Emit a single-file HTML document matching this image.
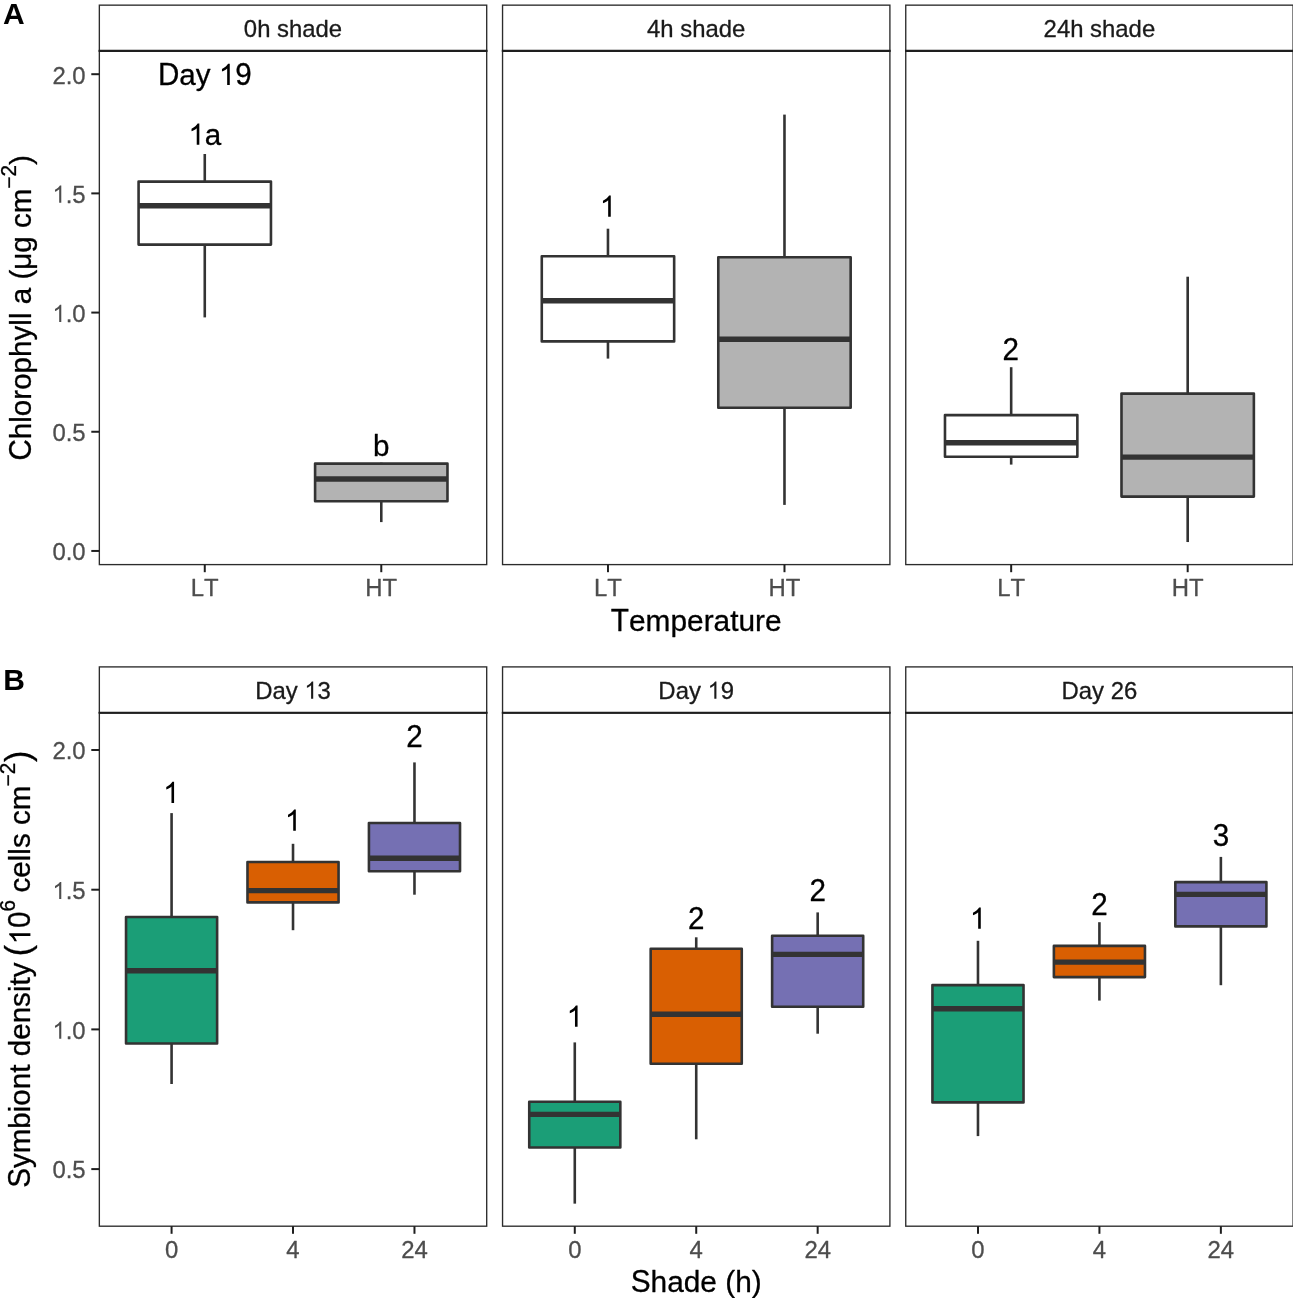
<!DOCTYPE html>
<html><head><meta charset="utf-8"><title>Chlorophyll a and symbiont density boxplots</title>
<style>
html,body{margin:0;padding:0;background:#FFFFFF;}
body{width:1293px;height:1298px;overflow:hidden;}
svg{display:block;filter:blur(0.35px);font-family:"Liberation Sans", sans-serif;font-kerning:none;}
svg text{font-kerning:none;white-space:pre;}
</style></head>
<body>
<svg width="1293" height="1298" viewBox="0 0 1293 1298">
<rect x="0" y="0" width="1293" height="1298" fill="#FFFFFF"/>
<rect x="99.35" y="5.15" width="387.35" height="45.75" fill="#FFFFFF" stroke="#2C2C2C" stroke-width="1.35"/>
<g transform="translate(293.02,36.90)" fill="#1A1A1A" stroke="#1A1A1A" stroke-width="0.3" stroke-linejoin="round"><text transform="translate(-49.17,-0.00) scale(1,1.03)" font-size="23.90">0</text><text transform="translate(-35.88,-0.00) scale(1,0.99)" font-size="23.90">h shade</text></g>
<rect x="99.35" y="50.9" width="387.35" height="513.70" fill="none" stroke="#2C2C2C" stroke-width="1.35"/>
<line x1="98.68" y1="50.9" x2="487.37" y2="50.9" stroke="#1E1E1E" stroke-width="2.1"/>
<rect x="502.55" y="5.15" width="387.35" height="45.75" fill="#FFFFFF" stroke="#2C2C2C" stroke-width="1.35"/>
<g transform="translate(696.23,36.90)" fill="#1A1A1A" stroke="#1A1A1A" stroke-width="0.3" stroke-linejoin="round"><text transform="translate(-49.17,-0.00) scale(1,1.03)" font-size="23.90">4</text><text transform="translate(-35.88,-0.00) scale(1,0.99)" font-size="23.90">h shade</text></g>
<rect x="502.55" y="50.9" width="387.35" height="513.70" fill="none" stroke="#2C2C2C" stroke-width="1.35"/>
<line x1="501.88" y1="50.9" x2="890.57" y2="50.9" stroke="#1E1E1E" stroke-width="2.1"/>
<rect x="905.75" y="5.15" width="387.35" height="45.75" fill="#FFFFFF" stroke="#2C2C2C" stroke-width="1.35"/>
<g transform="translate(1099.42,36.90)" fill="#1A1A1A" stroke="#1A1A1A" stroke-width="0.3" stroke-linejoin="round"><text transform="translate(-55.82,-0.00) scale(1,1.03)" font-size="23.90">24</text><text transform="translate(-29.23,-0.00) scale(1,0.99)" font-size="23.90">h shade</text></g>
<rect x="905.75" y="50.9" width="387.35" height="513.70" fill="none" stroke="#2C2C2C" stroke-width="1.35"/>
<line x1="905.08" y1="50.9" x2="1293.77" y2="50.9" stroke="#1E1E1E" stroke-width="2.1"/>
<line x1="204.77" y1="154.00" x2="204.77" y2="181.60" stroke="#333333" stroke-width="2.6" stroke-linecap="butt"/>
<line x1="204.77" y1="244.60" x2="204.77" y2="317.40" stroke="#333333" stroke-width="2.6" stroke-linecap="butt"/>
<rect x="138.58" y="181.60" width="132.38" height="63.00" fill="#FFFFFF" stroke="#333333" stroke-width="2.6" stroke-linejoin="round"/>
<line x1="138.58" y1="205.80" x2="270.96" y2="205.80" stroke="#333333" stroke-width="5.4" stroke-linecap="butt"/>
<line x1="381.28" y1="462.70" x2="381.28" y2="463.60" stroke="#333333" stroke-width="2.6" stroke-linecap="butt"/>
<line x1="381.28" y1="501.30" x2="381.28" y2="522.10" stroke="#333333" stroke-width="2.6" stroke-linecap="butt"/>
<rect x="315.09" y="463.60" width="132.38" height="37.70" fill="#B3B3B3" stroke="#333333" stroke-width="2.6" stroke-linejoin="round"/>
<line x1="315.09" y1="479.00" x2="447.47" y2="479.00" stroke="#333333" stroke-width="5.4" stroke-linecap="butt"/>
<line x1="607.97" y1="228.70" x2="607.97" y2="256.20" stroke="#333333" stroke-width="2.6" stroke-linecap="butt"/>
<line x1="607.97" y1="341.40" x2="607.97" y2="358.60" stroke="#333333" stroke-width="2.6" stroke-linecap="butt"/>
<rect x="541.78" y="256.20" width="132.38" height="85.20" fill="#FFFFFF" stroke="#333333" stroke-width="2.6" stroke-linejoin="round"/>
<line x1="541.78" y1="300.80" x2="674.16" y2="300.80" stroke="#333333" stroke-width="5.4" stroke-linecap="butt"/>
<line x1="784.48" y1="114.60" x2="784.48" y2="257.30" stroke="#333333" stroke-width="2.6" stroke-linecap="butt"/>
<line x1="784.48" y1="407.80" x2="784.48" y2="504.90" stroke="#333333" stroke-width="2.6" stroke-linecap="butt"/>
<rect x="718.29" y="257.30" width="132.38" height="150.50" fill="#B3B3B3" stroke="#333333" stroke-width="2.6" stroke-linejoin="round"/>
<line x1="718.29" y1="339.30" x2="850.67" y2="339.30" stroke="#333333" stroke-width="5.4" stroke-linecap="butt"/>
<line x1="1011.17" y1="367.20" x2="1011.17" y2="415.10" stroke="#333333" stroke-width="2.6" stroke-linecap="butt"/>
<line x1="1011.17" y1="456.80" x2="1011.17" y2="464.60" stroke="#333333" stroke-width="2.6" stroke-linecap="butt"/>
<rect x="944.98" y="415.10" width="132.38" height="41.70" fill="#FFFFFF" stroke="#333333" stroke-width="2.6" stroke-linejoin="round"/>
<line x1="944.98" y1="442.80" x2="1077.36" y2="442.80" stroke="#333333" stroke-width="5.4" stroke-linecap="butt"/>
<line x1="1187.68" y1="276.70" x2="1187.68" y2="393.60" stroke="#333333" stroke-width="2.6" stroke-linecap="butt"/>
<line x1="1187.68" y1="496.60" x2="1187.68" y2="542.05" stroke="#333333" stroke-width="2.6" stroke-linecap="butt"/>
<rect x="1121.49" y="393.60" width="132.38" height="103.00" fill="#B3B3B3" stroke="#333333" stroke-width="2.6" stroke-linejoin="round"/>
<line x1="1121.49" y1="457.10" x2="1253.87" y2="457.10" stroke="#333333" stroke-width="5.4" stroke-linecap="butt"/>
<g transform="translate(204.77,85.00)" fill="#000" stroke="#000" stroke-width="0.3" stroke-linejoin="round"><path transform="translate(13.97,-0.00) scale(0.01445,-0.01445)" d="M763,0 L583,0 L583,1147 Q518,1085 415,1024.5 Q312,964 223,931 L223,1105 Q374,1176 486.5,1276 Q599,1376 646,1466 L763,1466 Z"/><text transform="translate(-46.89,-0.00) scale(1,1.035)" font-size="29.60">D</text><text transform="translate(-25.52,-0.00) scale(1,0.98)" font-size="29.60">ay </text><text transform="translate(30.43,-0.00) scale(1,1.03)" font-size="29.60">9</text></g>
<g transform="translate(204.77,144.70)" fill="#000" stroke="#000" stroke-width="0.3" stroke-linejoin="round"><path transform="translate(-16.46,-0.00) scale(0.01445,-0.01445)" d="M763,0 L583,0 L583,1147 Q518,1085 415,1024.5 Q312,964 223,931 L223,1105 Q374,1176 486.5,1276 Q599,1376 646,1466 L763,1466 Z"/><text transform="translate(0.00,-0.00) scale(1,0.98)" font-size="29.60">a</text></g>
<g transform="translate(381.28,455.60)" fill="#000" stroke="#000" stroke-width="0.3" stroke-linejoin="round"><text transform="translate(-8.23,-0.00) scale(1,0.98)" font-size="29.60">b</text></g>
<g transform="translate(607.97,216.70)" fill="#000" stroke="#000" stroke-width="0.3" stroke-linejoin="round"><path transform="translate(-8.23,-0.00) scale(0.01445,-0.01445)" d="M763,0 L583,0 L583,1147 Q518,1085 415,1024.5 Q312,964 223,931 L223,1105 Q374,1176 486.5,1276 Q599,1376 646,1466 L763,1466 Z"/></g>
<g transform="translate(1010.77,360.10)" fill="#000" stroke="#000" stroke-width="0.3" stroke-linejoin="round"><text transform="translate(-8.23,-0.00) scale(1,1.03)" font-size="29.60">2</text></g>
<line x1="91.30" y1="550.95" x2="99.35" y2="550.95" stroke="#1E1E1E" stroke-width="2.0" stroke-linecap="butt"/>
<g transform="translate(85.60,560.25)" fill="#4D4D4D" stroke="#4D4D4D" stroke-width="0.3" stroke-linejoin="round"><text transform="translate(-33.22,-0.00) scale(1,1.03)" font-size="23.90">0</text><text transform="translate(-19.93,-0.00) scale(1,1.0)" font-size="23.90">.</text><text transform="translate(-13.29,-0.00) scale(1,1.03)" font-size="23.90">0</text></g>
<line x1="91.30" y1="431.76" x2="99.35" y2="431.76" stroke="#1E1E1E" stroke-width="2.0" stroke-linecap="butt"/>
<g transform="translate(85.60,441.06)" fill="#4D4D4D" stroke="#4D4D4D" stroke-width="0.3" stroke-linejoin="round"><text transform="translate(-33.22,-0.00) scale(1,1.03)" font-size="23.90">0</text><text transform="translate(-19.93,-0.00) scale(1,1.0)" font-size="23.90">.</text><text transform="translate(-13.29,-0.00) scale(1,1.03)" font-size="23.90">5</text></g>
<line x1="91.30" y1="312.58" x2="99.35" y2="312.58" stroke="#1E1E1E" stroke-width="2.0" stroke-linecap="butt"/>
<g transform="translate(85.60,321.88)" fill="#4D4D4D" stroke="#4D4D4D" stroke-width="0.3" stroke-linejoin="round"><path transform="translate(-33.22,-0.00) scale(0.01167,-0.01167)" d="M763,0 L583,0 L583,1147 Q518,1085 415,1024.5 Q312,964 223,931 L223,1105 Q374,1176 486.5,1276 Q599,1376 646,1466 L763,1466 Z"/><text transform="translate(-19.93,-0.00) scale(1,1.0)" font-size="23.90">.</text><text transform="translate(-13.29,-0.00) scale(1,1.03)" font-size="23.90">0</text></g>
<line x1="91.30" y1="193.39" x2="99.35" y2="193.39" stroke="#1E1E1E" stroke-width="2.0" stroke-linecap="butt"/>
<g transform="translate(85.60,202.69)" fill="#4D4D4D" stroke="#4D4D4D" stroke-width="0.3" stroke-linejoin="round"><path transform="translate(-33.22,-0.00) scale(0.01167,-0.01167)" d="M763,0 L583,0 L583,1147 Q518,1085 415,1024.5 Q312,964 223,931 L223,1105 Q374,1176 486.5,1276 Q599,1376 646,1466 L763,1466 Z"/><text transform="translate(-19.93,-0.00) scale(1,1.0)" font-size="23.90">.</text><text transform="translate(-13.29,-0.00) scale(1,1.03)" font-size="23.90">5</text></g>
<line x1="91.30" y1="74.20" x2="99.35" y2="74.20" stroke="#1E1E1E" stroke-width="2.0" stroke-linecap="butt"/>
<g transform="translate(85.60,83.50)" fill="#4D4D4D" stroke="#4D4D4D" stroke-width="0.3" stroke-linejoin="round"><text transform="translate(-33.22,-0.00) scale(1,1.03)" font-size="23.90">2</text><text transform="translate(-19.93,-0.00) scale(1,1.0)" font-size="23.90">.</text><text transform="translate(-13.29,-0.00) scale(1,1.03)" font-size="23.90">0</text></g>
<line x1="204.77" y1="564.60" x2="204.77" y2="572.20" stroke="#1E1E1E" stroke-width="2.0" stroke-linecap="butt"/>
<g transform="translate(204.77,595.90)" fill="#4D4D4D" stroke="#4D4D4D" stroke-width="0.3" stroke-linejoin="round"><text transform="translate(-13.95,-0.00) scale(1,1.01)" font-size="23.90">LT</text></g>
<line x1="381.28" y1="564.60" x2="381.28" y2="572.20" stroke="#1E1E1E" stroke-width="2.0" stroke-linecap="butt"/>
<g transform="translate(381.28,595.90)" fill="#4D4D4D" stroke="#4D4D4D" stroke-width="0.3" stroke-linejoin="round"><text transform="translate(-15.93,-0.00) scale(1,1.01)" font-size="23.90">HT</text></g>
<line x1="607.97" y1="564.60" x2="607.97" y2="572.20" stroke="#1E1E1E" stroke-width="2.0" stroke-linecap="butt"/>
<g transform="translate(607.97,595.90)" fill="#4D4D4D" stroke="#4D4D4D" stroke-width="0.3" stroke-linejoin="round"><text transform="translate(-13.95,-0.00) scale(1,1.01)" font-size="23.90">LT</text></g>
<line x1="784.48" y1="564.60" x2="784.48" y2="572.20" stroke="#1E1E1E" stroke-width="2.0" stroke-linecap="butt"/>
<g transform="translate(784.48,595.90)" fill="#4D4D4D" stroke="#4D4D4D" stroke-width="0.3" stroke-linejoin="round"><text transform="translate(-15.93,-0.00) scale(1,1.01)" font-size="23.90">HT</text></g>
<line x1="1011.17" y1="564.60" x2="1011.17" y2="572.20" stroke="#1E1E1E" stroke-width="2.0" stroke-linecap="butt"/>
<g transform="translate(1011.17,595.90)" fill="#4D4D4D" stroke="#4D4D4D" stroke-width="0.3" stroke-linejoin="round"><text transform="translate(-13.95,-0.00) scale(1,1.01)" font-size="23.90">LT</text></g>
<line x1="1187.68" y1="564.60" x2="1187.68" y2="572.20" stroke="#1E1E1E" stroke-width="2.0" stroke-linecap="butt"/>
<g transform="translate(1187.68,595.90)" fill="#4D4D4D" stroke="#4D4D4D" stroke-width="0.3" stroke-linejoin="round"><text transform="translate(-15.93,-0.00) scale(1,1.01)" font-size="23.90">HT</text></g>
<g transform="translate(696.20,630.70)" fill="#000" stroke="#000" stroke-width="0.3" stroke-linejoin="round"><text transform="translate(-85.44,-0.00) scale(1,1.035)" font-size="29.85">T</text><text transform="translate(-67.21,-0.00) scale(1,0.98)" font-size="29.85">emperature</text></g>
<g transform="translate(30.50,307.80) rotate(-90)" fill="#000" stroke="#000" stroke-width="0.3" stroke-linejoin="round"><text transform="translate(-152.76,0.00) scale(1,1.035)" font-size="29.60">C</text><text transform="translate(-131.38,0.00) scale(1,0.98)" font-size="29.60">hlorophyll a </text><text transform="translate(28.22,0.00) scale(1,1.0)" font-size="29.60">(</text><text transform="translate(38.08,0.00) scale(1,0.98)" font-size="29.60">μg cm</text><text transform="translate(119.28,-15.00) scale(1,1.0)" font-size="20.72">−</text><text transform="translate(131.38,-15.00) scale(1,1.03)" font-size="20.72">2</text><text transform="translate(142.90,0.00) scale(1,1.0)" font-size="29.60">)</text></g>
<text x="2.95" y="24.0" font-size="30" font-weight="bold" fill="#000">A</text>
<text x="3.3" y="689.7" font-size="30" font-weight="bold" fill="#000">B</text>
<rect x="99.35" y="666.9" width="387.35" height="45.90" fill="#FFFFFF" stroke="#2C2C2C" stroke-width="1.35"/>
<g transform="translate(293.02,698.65)" fill="#1A1A1A" stroke="#1A1A1A" stroke-width="0.3" stroke-linejoin="round"><path transform="translate(11.28,-0.00) scale(0.01167,-0.01167)" d="M763,0 L583,0 L583,1147 Q518,1085 415,1024.5 Q312,964 223,931 L223,1105 Q374,1176 486.5,1276 Q599,1376 646,1466 L763,1466 Z"/><text transform="translate(-37.86,-0.00) scale(1,1.01)" font-size="23.90">D</text><text transform="translate(-20.60,-0.00) scale(1,0.99)" font-size="23.90">ay </text><text transform="translate(24.57,-0.00) scale(1,1.03)" font-size="23.90">3</text></g>
<rect x="99.35" y="712.8" width="387.35" height="513.40" fill="none" stroke="#2C2C2C" stroke-width="1.35"/>
<line x1="98.68" y1="712.8" x2="487.37" y2="712.8" stroke="#1E1E1E" stroke-width="2.1"/>
<rect x="502.55" y="666.9" width="387.35" height="45.90" fill="#FFFFFF" stroke="#2C2C2C" stroke-width="1.35"/>
<g transform="translate(696.23,698.65)" fill="#1A1A1A" stroke="#1A1A1A" stroke-width="0.3" stroke-linejoin="round"><path transform="translate(11.28,-0.00) scale(0.01167,-0.01167)" d="M763,0 L583,0 L583,1147 Q518,1085 415,1024.5 Q312,964 223,931 L223,1105 Q374,1176 486.5,1276 Q599,1376 646,1466 L763,1466 Z"/><text transform="translate(-37.86,-0.00) scale(1,1.01)" font-size="23.90">D</text><text transform="translate(-20.60,-0.00) scale(1,0.99)" font-size="23.90">ay </text><text transform="translate(24.57,-0.00) scale(1,1.03)" font-size="23.90">9</text></g>
<rect x="502.55" y="712.8" width="387.35" height="513.40" fill="none" stroke="#2C2C2C" stroke-width="1.35"/>
<line x1="501.88" y1="712.8" x2="890.57" y2="712.8" stroke="#1E1E1E" stroke-width="2.1"/>
<rect x="905.75" y="666.9" width="387.35" height="45.90" fill="#FFFFFF" stroke="#2C2C2C" stroke-width="1.35"/>
<g transform="translate(1099.42,698.65)" fill="#1A1A1A" stroke="#1A1A1A" stroke-width="0.3" stroke-linejoin="round"><text transform="translate(-37.86,-0.00) scale(1,1.01)" font-size="23.90">D</text><text transform="translate(-20.60,-0.00) scale(1,0.99)" font-size="23.90">ay </text><text transform="translate(11.28,-0.00) scale(1,1.03)" font-size="23.90">26</text></g>
<rect x="905.75" y="712.8" width="387.35" height="513.40" fill="none" stroke="#2C2C2C" stroke-width="1.35"/>
<line x1="905.08" y1="712.8" x2="1293.77" y2="712.8" stroke="#1E1E1E" stroke-width="2.1"/>
<line x1="171.58" y1="813.10" x2="171.58" y2="917.00" stroke="#333333" stroke-width="2.6" stroke-linecap="butt"/>
<line x1="171.58" y1="1043.50" x2="171.58" y2="1084.00" stroke="#333333" stroke-width="2.6" stroke-linecap="butt"/>
<rect x="126.04" y="917.00" width="91.08" height="126.50" fill="#1B9E77" stroke="#333333" stroke-width="2.6" stroke-linejoin="round"/>
<line x1="126.04" y1="970.80" x2="217.12" y2="970.80" stroke="#333333" stroke-width="5.4" stroke-linecap="butt"/>
<g transform="translate(171.28,803.05)" fill="#000" stroke="#000" stroke-width="0.3" stroke-linejoin="round"><path transform="translate(-8.23,-0.00) scale(0.01445,-0.01445)" d="M763,0 L583,0 L583,1147 Q518,1085 415,1024.5 Q312,964 223,931 L223,1105 Q374,1176 486.5,1276 Q599,1376 646,1466 L763,1466 Z"/></g>
<line x1="293.02" y1="843.80" x2="293.02" y2="862.00" stroke="#333333" stroke-width="2.6" stroke-linecap="butt"/>
<line x1="293.02" y1="902.40" x2="293.02" y2="930.20" stroke="#333333" stroke-width="2.6" stroke-linecap="butt"/>
<rect x="247.48" y="862.00" width="91.08" height="40.40" fill="#D95F02" stroke="#333333" stroke-width="2.6" stroke-linejoin="round"/>
<line x1="247.48" y1="890.60" x2="338.57" y2="890.60" stroke="#333333" stroke-width="5.4" stroke-linecap="butt"/>
<g transform="translate(293.02,830.70)" fill="#000" stroke="#000" stroke-width="0.3" stroke-linejoin="round"><path transform="translate(-8.23,-0.00) scale(0.01445,-0.01445)" d="M763,0 L583,0 L583,1147 Q518,1085 415,1024.5 Q312,964 223,931 L223,1105 Q374,1176 486.5,1276 Q599,1376 646,1466 L763,1466 Z"/></g>
<line x1="414.47" y1="762.40" x2="414.47" y2="823.00" stroke="#333333" stroke-width="2.6" stroke-linecap="butt"/>
<line x1="414.47" y1="871.30" x2="414.47" y2="894.70" stroke="#333333" stroke-width="2.6" stroke-linecap="butt"/>
<rect x="368.93" y="823.00" width="91.08" height="48.30" fill="#7570B3" stroke="#333333" stroke-width="2.6" stroke-linejoin="round"/>
<line x1="368.93" y1="858.30" x2="460.01" y2="858.30" stroke="#333333" stroke-width="5.4" stroke-linecap="butt"/>
<g transform="translate(414.47,746.90)" fill="#000" stroke="#000" stroke-width="0.3" stroke-linejoin="round"><text transform="translate(-8.23,-0.00) scale(1,1.03)" font-size="29.60">2</text></g>
<line x1="574.78" y1="1042.40" x2="574.78" y2="1101.80" stroke="#333333" stroke-width="2.6" stroke-linecap="butt"/>
<line x1="574.78" y1="1147.50" x2="574.78" y2="1203.65" stroke="#333333" stroke-width="2.6" stroke-linecap="butt"/>
<rect x="529.24" y="1101.80" width="91.08" height="45.70" fill="#1B9E77" stroke="#333333" stroke-width="2.6" stroke-linejoin="round"/>
<line x1="529.24" y1="1114.40" x2="620.32" y2="1114.40" stroke="#333333" stroke-width="5.4" stroke-linecap="butt"/>
<g transform="translate(574.78,1026.75)" fill="#000" stroke="#000" stroke-width="0.3" stroke-linejoin="round"><path transform="translate(-8.23,-0.00) scale(0.01445,-0.01445)" d="M763,0 L583,0 L583,1147 Q518,1085 415,1024.5 Q312,964 223,931 L223,1105 Q374,1176 486.5,1276 Q599,1376 646,1466 L763,1466 Z"/></g>
<line x1="696.23" y1="937.30" x2="696.23" y2="948.70" stroke="#333333" stroke-width="2.6" stroke-linecap="butt"/>
<line x1="696.23" y1="1063.70" x2="696.23" y2="1139.30" stroke="#333333" stroke-width="2.6" stroke-linecap="butt"/>
<rect x="650.68" y="948.70" width="91.08" height="115.00" fill="#D95F02" stroke="#333333" stroke-width="2.6" stroke-linejoin="round"/>
<line x1="650.68" y1="1014.20" x2="741.77" y2="1014.20" stroke="#333333" stroke-width="5.4" stroke-linecap="butt"/>
<g transform="translate(696.23,928.80)" fill="#000" stroke="#000" stroke-width="0.3" stroke-linejoin="round"><text transform="translate(-8.23,-0.00) scale(1,1.03)" font-size="29.60">2</text></g>
<line x1="817.67" y1="912.40" x2="817.67" y2="935.80" stroke="#333333" stroke-width="2.6" stroke-linecap="butt"/>
<line x1="817.67" y1="1006.80" x2="817.67" y2="1033.70" stroke="#333333" stroke-width="2.6" stroke-linecap="butt"/>
<rect x="772.13" y="935.80" width="91.08" height="71.00" fill="#7570B3" stroke="#333333" stroke-width="2.6" stroke-linejoin="round"/>
<line x1="772.13" y1="954.40" x2="863.21" y2="954.40" stroke="#333333" stroke-width="5.4" stroke-linecap="butt"/>
<g transform="translate(817.67,901.00)" fill="#000" stroke="#000" stroke-width="0.3" stroke-linejoin="round"><text transform="translate(-8.23,-0.00) scale(1,1.03)" font-size="29.60">2</text></g>
<line x1="977.98" y1="940.80" x2="977.98" y2="985.10" stroke="#333333" stroke-width="2.6" stroke-linecap="butt"/>
<line x1="977.98" y1="1102.40" x2="977.98" y2="1136.10" stroke="#333333" stroke-width="2.6" stroke-linecap="butt"/>
<rect x="932.44" y="985.10" width="91.08" height="117.30" fill="#1B9E77" stroke="#333333" stroke-width="2.6" stroke-linejoin="round"/>
<line x1="932.44" y1="1008.80" x2="1023.52" y2="1008.80" stroke="#333333" stroke-width="5.4" stroke-linecap="butt"/>
<g transform="translate(977.98,928.80)" fill="#000" stroke="#000" stroke-width="0.3" stroke-linejoin="round"><path transform="translate(-8.23,-0.00) scale(0.01445,-0.01445)" d="M763,0 L583,0 L583,1147 Q518,1085 415,1024.5 Q312,964 223,931 L223,1105 Q374,1176 486.5,1276 Q599,1376 646,1466 L763,1466 Z"/></g>
<line x1="1099.42" y1="922.20" x2="1099.42" y2="945.90" stroke="#333333" stroke-width="2.6" stroke-linecap="butt"/>
<line x1="1099.42" y1="977.10" x2="1099.42" y2="1000.60" stroke="#333333" stroke-width="2.6" stroke-linecap="butt"/>
<rect x="1053.88" y="945.90" width="91.08" height="31.20" fill="#D95F02" stroke="#333333" stroke-width="2.6" stroke-linejoin="round"/>
<line x1="1053.88" y1="962.15" x2="1144.97" y2="962.15" stroke="#333333" stroke-width="5.4" stroke-linecap="butt"/>
<g transform="translate(1099.42,915.40)" fill="#000" stroke="#000" stroke-width="0.3" stroke-linejoin="round"><text transform="translate(-8.23,-0.00) scale(1,1.03)" font-size="29.60">2</text></g>
<line x1="1220.87" y1="856.90" x2="1220.87" y2="882.10" stroke="#333333" stroke-width="2.6" stroke-linecap="butt"/>
<line x1="1220.87" y1="926.40" x2="1220.87" y2="985.20" stroke="#333333" stroke-width="2.6" stroke-linecap="butt"/>
<rect x="1175.33" y="882.10" width="91.08" height="44.30" fill="#7570B3" stroke="#333333" stroke-width="2.6" stroke-linejoin="round"/>
<line x1="1175.33" y1="894.40" x2="1266.41" y2="894.40" stroke="#333333" stroke-width="5.4" stroke-linecap="butt"/>
<g transform="translate(1220.87,845.70)" fill="#000" stroke="#000" stroke-width="0.3" stroke-linejoin="round"><text transform="translate(-8.23,-0.00) scale(1,1.03)" font-size="29.60">3</text></g>
<line x1="91.30" y1="1169.10" x2="99.35" y2="1169.10" stroke="#1E1E1E" stroke-width="2.0" stroke-linecap="butt"/>
<g transform="translate(85.60,1178.40)" fill="#4D4D4D" stroke="#4D4D4D" stroke-width="0.3" stroke-linejoin="round"><text transform="translate(-33.22,-0.00) scale(1,1.03)" font-size="23.90">0</text><text transform="translate(-19.93,-0.00) scale(1,1.0)" font-size="23.90">.</text><text transform="translate(-13.29,-0.00) scale(1,1.03)" font-size="23.90">5</text></g>
<line x1="91.30" y1="1029.40" x2="99.35" y2="1029.40" stroke="#1E1E1E" stroke-width="2.0" stroke-linecap="butt"/>
<g transform="translate(85.60,1038.70)" fill="#4D4D4D" stroke="#4D4D4D" stroke-width="0.3" stroke-linejoin="round"><path transform="translate(-33.22,-0.00) scale(0.01167,-0.01167)" d="M763,0 L583,0 L583,1147 Q518,1085 415,1024.5 Q312,964 223,931 L223,1105 Q374,1176 486.5,1276 Q599,1376 646,1466 L763,1466 Z"/><text transform="translate(-19.93,-0.00) scale(1,1.0)" font-size="23.90">.</text><text transform="translate(-13.29,-0.00) scale(1,1.03)" font-size="23.90">0</text></g>
<line x1="91.30" y1="889.70" x2="99.35" y2="889.70" stroke="#1E1E1E" stroke-width="2.0" stroke-linecap="butt"/>
<g transform="translate(85.60,899.00)" fill="#4D4D4D" stroke="#4D4D4D" stroke-width="0.3" stroke-linejoin="round"><path transform="translate(-33.22,-0.00) scale(0.01167,-0.01167)" d="M763,0 L583,0 L583,1147 Q518,1085 415,1024.5 Q312,964 223,931 L223,1105 Q374,1176 486.5,1276 Q599,1376 646,1466 L763,1466 Z"/><text transform="translate(-19.93,-0.00) scale(1,1.0)" font-size="23.90">.</text><text transform="translate(-13.29,-0.00) scale(1,1.03)" font-size="23.90">5</text></g>
<line x1="91.30" y1="750.00" x2="99.35" y2="750.00" stroke="#1E1E1E" stroke-width="2.0" stroke-linecap="butt"/>
<g transform="translate(85.60,759.30)" fill="#4D4D4D" stroke="#4D4D4D" stroke-width="0.3" stroke-linejoin="round"><text transform="translate(-33.22,-0.00) scale(1,1.03)" font-size="23.90">2</text><text transform="translate(-19.93,-0.00) scale(1,1.0)" font-size="23.90">.</text><text transform="translate(-13.29,-0.00) scale(1,1.03)" font-size="23.90">0</text></g>
<line x1="171.58" y1="1226.20" x2="171.58" y2="1233.80" stroke="#1E1E1E" stroke-width="2.0" stroke-linecap="butt"/>
<g transform="translate(171.58,1257.50)" fill="#4D4D4D" stroke="#4D4D4D" stroke-width="0.3" stroke-linejoin="round"><text transform="translate(-6.65,-0.00) scale(1,1.03)" font-size="23.90">0</text></g>
<line x1="293.02" y1="1226.20" x2="293.02" y2="1233.80" stroke="#1E1E1E" stroke-width="2.0" stroke-linecap="butt"/>
<g transform="translate(293.02,1257.50)" fill="#4D4D4D" stroke="#4D4D4D" stroke-width="0.3" stroke-linejoin="round"><text transform="translate(-6.65,-0.00) scale(1,1.03)" font-size="23.90">4</text></g>
<line x1="414.47" y1="1226.20" x2="414.47" y2="1233.80" stroke="#1E1E1E" stroke-width="2.0" stroke-linecap="butt"/>
<g transform="translate(414.47,1257.50)" fill="#4D4D4D" stroke="#4D4D4D" stroke-width="0.3" stroke-linejoin="round"><text transform="translate(-13.29,-0.00) scale(1,1.03)" font-size="23.90">24</text></g>
<line x1="574.78" y1="1226.20" x2="574.78" y2="1233.80" stroke="#1E1E1E" stroke-width="2.0" stroke-linecap="butt"/>
<g transform="translate(574.78,1257.50)" fill="#4D4D4D" stroke="#4D4D4D" stroke-width="0.3" stroke-linejoin="round"><text transform="translate(-6.65,-0.00) scale(1,1.03)" font-size="23.90">0</text></g>
<line x1="696.23" y1="1226.20" x2="696.23" y2="1233.80" stroke="#1E1E1E" stroke-width="2.0" stroke-linecap="butt"/>
<g transform="translate(696.23,1257.50)" fill="#4D4D4D" stroke="#4D4D4D" stroke-width="0.3" stroke-linejoin="round"><text transform="translate(-6.65,-0.00) scale(1,1.03)" font-size="23.90">4</text></g>
<line x1="817.67" y1="1226.20" x2="817.67" y2="1233.80" stroke="#1E1E1E" stroke-width="2.0" stroke-linecap="butt"/>
<g transform="translate(817.67,1257.50)" fill="#4D4D4D" stroke="#4D4D4D" stroke-width="0.3" stroke-linejoin="round"><text transform="translate(-13.29,-0.00) scale(1,1.03)" font-size="23.90">24</text></g>
<line x1="977.98" y1="1226.20" x2="977.98" y2="1233.80" stroke="#1E1E1E" stroke-width="2.0" stroke-linecap="butt"/>
<g transform="translate(977.98,1257.50)" fill="#4D4D4D" stroke="#4D4D4D" stroke-width="0.3" stroke-linejoin="round"><text transform="translate(-6.65,-0.00) scale(1,1.03)" font-size="23.90">0</text></g>
<line x1="1099.42" y1="1226.20" x2="1099.42" y2="1233.80" stroke="#1E1E1E" stroke-width="2.0" stroke-linecap="butt"/>
<g transform="translate(1099.42,1257.50)" fill="#4D4D4D" stroke="#4D4D4D" stroke-width="0.3" stroke-linejoin="round"><text transform="translate(-6.65,-0.00) scale(1,1.03)" font-size="23.90">4</text></g>
<line x1="1220.87" y1="1226.20" x2="1220.87" y2="1233.80" stroke="#1E1E1E" stroke-width="2.0" stroke-linecap="butt"/>
<g transform="translate(1220.87,1257.50)" fill="#4D4D4D" stroke="#4D4D4D" stroke-width="0.3" stroke-linejoin="round"><text transform="translate(-13.29,-0.00) scale(1,1.03)" font-size="23.90">24</text></g>
<g transform="translate(696.20,1291.90)" fill="#000" stroke="#000" stroke-width="0.3" stroke-linejoin="round"><text transform="translate(-65.54,-0.00) scale(1,1.035)" font-size="29.85">S</text><text transform="translate(-45.63,-0.00) scale(1,0.98)" font-size="29.85">hade </text><text transform="translate(29.06,-0.00) scale(1,1.0)" font-size="29.85">(</text><text transform="translate(39.00,-0.00) scale(1,0.98)" font-size="29.85">h</text><text transform="translate(55.60,-0.00) scale(1,1.0)" font-size="29.85">)</text></g>
<g transform="translate(30.40,970.35) rotate(-90)" fill="#000" stroke="#000" stroke-width="0.3" stroke-linejoin="round"><text transform="translate(-217.51,0.00) scale(1,1.035)" font-size="29.60">S</text><text transform="translate(-197.77,0.00) scale(1,0.98)" font-size="29.60">ymbiont density </text><text transform="translate(14.16,-0.80) scale(1,1.035)" font-size="33.98">(</text><path transform="translate(25.96,0.00) scale(0.01445,-0.01445)" d="M763,0 L583,0 L583,1147 Q518,1085 415,1024.5 Q312,964 223,931 L223,1105 Q374,1176 486.5,1276 Q599,1376 646,1466 L763,1466 Z"/><text transform="translate(42.43,0.00) scale(1,1.03)" font-size="29.60">0</text><text transform="translate(58.89,-15.00) scale(1,1.03)" font-size="20.72">6</text><text transform="translate(77.84,0.00) scale(1,0.98)" font-size="29.60">cells cm</text><text transform="translate(184.03,-15.00) scale(1,1.0)" font-size="20.72">−</text><text transform="translate(196.13,-15.00) scale(1,1.03)" font-size="20.72">2</text><text transform="translate(208.46,-0.80) scale(1,1.035)" font-size="33.98">)</text></g>
</svg>
</body></html>
